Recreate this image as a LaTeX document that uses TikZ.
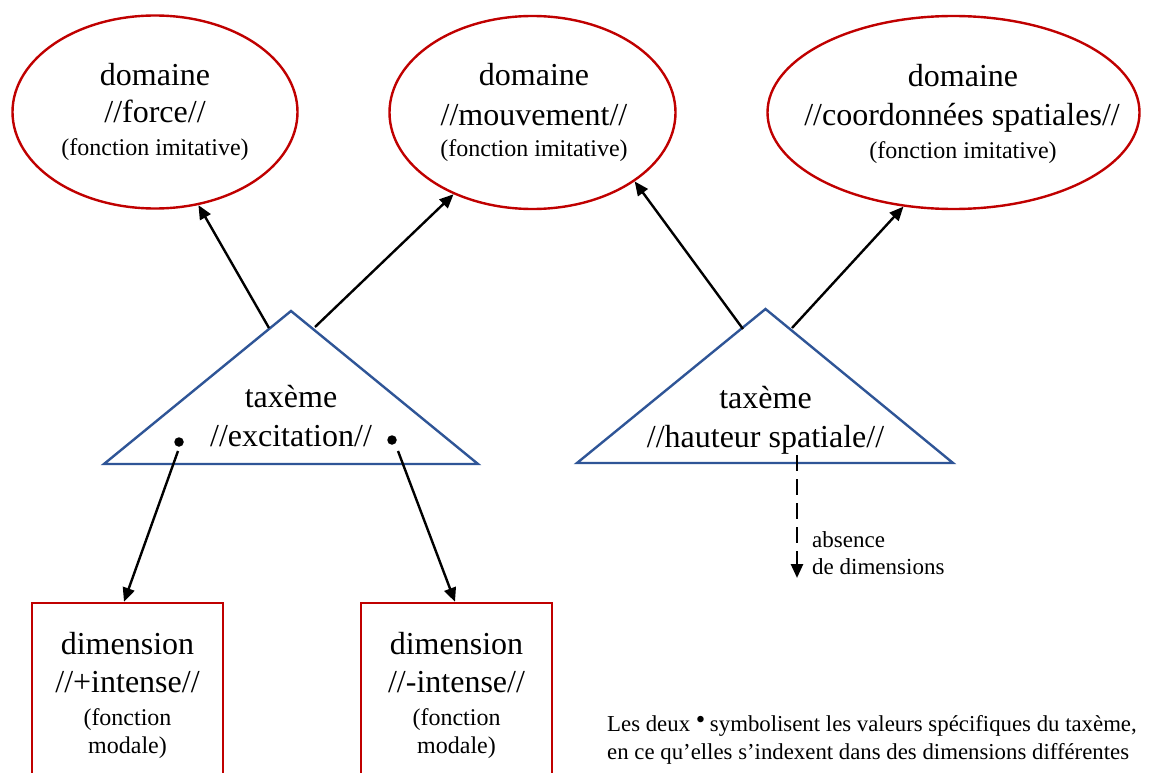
\documentclass[tikz,border=0pt]{standalone}
\usepackage{fontspec}
\setmainfont{Liberation Serif}
\usetikzlibrary{shapes.geometric,arrows.meta}
\definecolor{dred}{RGB}{192,0,0}
\definecolor{tblue}{RGB}{47,85,151}
\begin{document}
\begin{tikzpicture}[x=1pt,y=-1pt,
  dom/.style={ellipse, draw=dred, line width=2.4pt, inner sep=0pt},
  dimbox/.style={rectangle, draw=dred, line width=2.4pt, inner sep=0pt, minimum width=191pt, minimum height=200pt},
  tri/.style={draw=tblue, line width=2.4pt, line join=miter},
  big/.style={font=\fontsize{32}{38}\selectfont, anchor=base, inner sep=0pt},
  small/.style={font=\fontsize{24}{28}\selectfont, anchor=base, inner sep=0pt},
  note/.style={font=\fontsize{22.8}{27}\selectfont, anchor=base west, inner sep=0pt},
  link/.style={line width=2.4pt, -{Triangle[length=14pt,width=12pt]}},
  dashlink/.style={line width=2.6pt, dash pattern=on 16pt off 8pt, -{Triangle[length=14pt,width=12pt]}},
  valdot/.style={circle, fill=black, inner sep=0pt, minimum size=9.5pt}
]
\clip (0,0) rectangle (1151,773);
\fill[white] (0,0) rectangle (1151,773);

% ellipses
\node[dom, minimum width=285pt, minimum height=193pt] (e1) at (155,112) {};
\node[dom, minimum width=286pt, minimum height=193pt] (e2) at (532.5,112.5) {};
\node[dom, minimum width=372pt, minimum height=193pt] (e3) at (953.5,112.5) {};

\node[big] (e1a) at (155,86) {domaine};
\node[big] (e1b) at (155,123) {//force//};
\node[small] (e1c) at (155,156) {(fonction imitative)};

\node[big] (e2a) at (534,86) {domaine};
\node[big] (e2b) at (534,126) {//mouvement//};
\node[small] (e2c) at (534,157) {(fonction imitative)};

\node[big] (e3a) at (963,87) {domaine};
\node[big] (e3b) at (962,126) {//coordonnées spatiales//};
\node[small] (e3c) at (963,158) {(fonction imitative)};

% triangles
\coordinate (t1top) at (291,311);
\coordinate (t1r) at (478,464);
\coordinate (t1l) at (104,464);
\draw[tri] (t1top) -- (t1r) -- (t1l) -- cycle;
\coordinate (t2top) at (765.5,309);
\coordinate (t2r) at (953,463);
\coordinate (t2l) at (577,463);
\draw[tri] (t2top) -- (t2r) -- (t2l) -- cycle;

\node[big] (t1a) at (291,407) {taxème};
\node[big] (t1b) at (291,446) {//excitation//};
\node[big] (t2a) at (765.5,408) {taxème};
\node[big] (t2b) at (765.5,447) {//hauteur spatiale//};

\node[valdot] (v1) at (179,442) {};
\node[valdot] (v2) at (392,440) {};

% boxes
\node[dimbox] (b1) at (127.5,703) {};
\node[dimbox] (b2) at (456.5,703) {};
\node[big] (b1a) at (127.5,654) {dimension};
\node[big] (b1b) at (127.5,692) {//+intense//};
\node[small] (b1c) at (127.5,725) {(fonction};
\node[small] (b1d) at (127.5,753) {modale)};
\node[big] (b2a) at (456.5,654) {dimension};
\node[big] (b2b) at (456.5,692) {//-intense//};
\node[small] (b2c) at (456.5,725) {(fonction};
\node[small] (b2d) at (456.5,753) {modale)};

% connectors
\coordinate (s1) at (269,328);
\coordinate (s2) at (315,327);
\coordinate (s3) at (743,329);
\coordinate (s4) at (792,328);
\coordinate (s5) at (178,451);
\coordinate (s6) at (398,451);
\coordinate (s7) at (797,455);
\coordinate (s7end) at (797,578);
\draw[link] (s1) -- (e1.-65);
\draw[link] (s2) -- (e2.-134);
\draw[link] (s3) -- (e2.-34);
\draw[link] (s4) -- (e3.-118);
\draw[link] (s5) -- ([xshift=-3.5pt]b1.north);
\draw[link] (s6) -- ([xshift=-1.5pt]b2.north);
\draw[dashlink] (s7) -- (s7end);

\node[font=\fontsize{23}{27}\selectfont, anchor=base west, inner sep=0pt] (ab1) at (812,547) {absence};
\node[font=\fontsize{23}{27}\selectfont, anchor=base west, inner sep=0pt] (ab2) at (812,574) {de dimensions};

\node[note] (n1) at (607,731) {Les deux \raisebox{3pt}{\fontsize{27}{27}\selectfont •}\hspace{-1pt} symbolisent les valeurs spécifiques du taxème,};
\node[note] (n2) at (607,759) {en ce qu’elles s’indexent dans des dimensions différentes};
\end{tikzpicture}
\end{document}
